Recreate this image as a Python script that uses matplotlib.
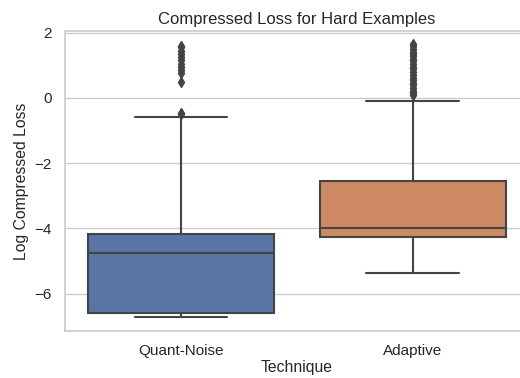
import matplotlib
matplotlib.use('Agg')
from matplotlib import pyplot as plt
import seaborn as sns

sns.set_theme(style='whitegrid')
plt.rcParams['font.family'] = ['Liberation Sans', 'DejaVu Sans']

techniques = ['Quant-Noise', 'Adaptive']
q1 = [-6.58, -4.25]
med = [-4.75, -3.99]
q3 = [-4.16, -2.55]
whislo = [-6.72, -5.36]
whishi = [-0.58, -0.10]
fliers = [
    [-0.45, -0.50, 0.50, 0.75, 0.85, 0.95, 1.05, 1.15, 1.25, 1.35, 1.45, 1.55, 1.60],
    [0.10, 0.15, 0.22, 0.30, 0.38, 0.45, 0.55, 0.62, 0.70, 0.80, 0.88, 0.95,
     1.05, 1.12, 1.20, 1.28, 1.35, 1.42, 1.50, 1.58, 1.65],
]
colors = ['#5875a4', '#cc8963']

fig = plt.figure(figsize=(5.2, 3.78), dpi=100)
ax = fig.add_axes([0.125, 0.124, 0.892, 0.794])

stats = []
for i, name in enumerate(techniques):
    stats.append(dict(label=name, q1=q1[i], med=med[i], q3=q3[i],
                      whislo=whislo[i], whishi=whishi[i], fliers=fliers[i]))

gray = '#444444'
bp = ax.bxp(stats, positions=[0, 1], widths=0.8, patch_artist=True,
            boxprops=dict(edgecolor=gray, linewidth=1.5),
            medianprops=dict(color=gray, linewidth=1.5),
            whiskerprops=dict(color=gray, linewidth=1.5),
            capprops=dict(color=gray, linewidth=1.5),
            flierprops=dict(marker='d', markerfacecolor=gray, markeredgecolor=gray,
                            markersize=5))
for patch, c in zip(bp['boxes'], colors):
    patch.set_facecolor(c)

ax.set_xlim(-0.5, 1.5)
ax.set_ylim(-7.15, 2.05)
ax.set_yticks([-6, -4, -2, 0, 2])
ax.set_xticks([0, 1])
ax.set_xticklabels(techniques)
ax.xaxis.grid(False)
ax.tick_params(labelsize=11)
ax.set_xlabel('Technique', fontsize=11.3, labelpad=1)
ax.set_ylabel('Log Compressed Loss', fontsize=11.3)
ax.set_title('Compressed Loss for Hard Examples', fontsize=12, pad=5)

fig.savefig('out.png', dpi=100)
